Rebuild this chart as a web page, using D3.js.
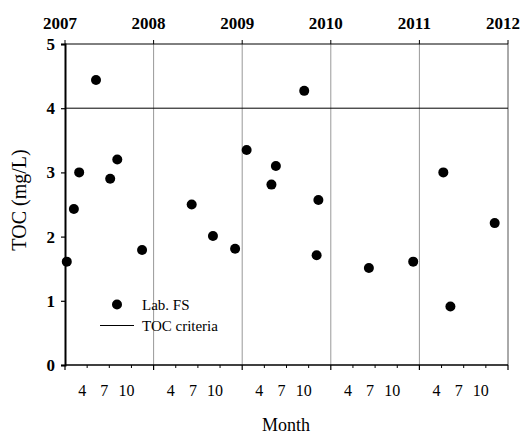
<!DOCTYPE html>
<html>
<head>
<meta charset="utf-8">
<script src="https://cdn.jsdelivr.net/npm/d3@7"></script>
<style>
  body { margin: 0; background: #fff; }
</style>
</head>
<body>
<div id="chart"></div>
<script>
// sample dates as decimal years, TOC in mg/L
const sampleDates = [2007.02, 2007.10, 2007.16, 2007.35, 2007.51, 2007.59, 2007.87,
  2008.43, 2008.67, 2008.92, 2009.05, 2009.33, 2009.38, 2009.70, 2009.84, 2009.86,
  2010.43, 2010.93, 2011.27, 2011.35, 2011.85];
const tocValues = [1.61, 2.43, 3.0, 4.44, 2.90, 3.20, 1.79,
  2.50, 2.01, 1.81, 3.35, 2.81, 3.10, 4.27, 1.71, 2.57,
  1.51, 1.61, 3.0, 0.91, 2.21];
const years = [2007, 2008, 2009, 2010, 2011, 2012];
const monthTicks = [4, 7, 10];
const yTicks = [0, 1, 2, 3, 4, 5];
const tocCriteria = 4;

const FONT = "'Liberation Serif', 'Times New Roman', Times, serif";
const width = 521, height = 434;
const margin = { top: 44, right: 13, bottom: 69, left: 65 };

const svg = d3.select("#chart").append("svg")
  .attr("width", width)
  .attr("height", height)
  .style("font-family", FONT);

const x = d3.scaleLinear().domain([2007, 2012]).range([margin.left, width - margin.right]);
const y = d3.scaleLinear().domain([0, 5]).range([height - margin.bottom, margin.top]);

// vertical year lines
svg.append("g")
  .selectAll("line")
  .data(years.slice(1))
  .join("line")
  .attr("x1", d => x(d)).attr("x2", d => x(d))
  .attr("y1", y(5)).attr("y2", y(0))
  .attr("stroke", d => d === 2012 ? "#555" : "#999")
  .attr("stroke-width", 1);

// top border + criteria line
svg.append("line")
  .attr("x1", x(2007)).attr("x2", x(2012))
  .attr("y1", y(5)).attr("y2", y(5))
  .attr("stroke", "#000");
svg.append("line")
  .attr("x1", x(2007)).attr("x2", x(2012))
  .attr("y1", y(tocCriteria)).attr("y2", y(tocCriteria))
  .attr("stroke", "#000");

// top year ticks and labels
const topAxis = svg.append("g");
topAxis.selectAll("line")
  .data(years)
  .join("line")
  .attr("x1", d => x(d)).attr("x2", d => x(d))
  .attr("y1", y(5) - 4).attr("y2", y(5))
  .attr("stroke", "#000");
topAxis.selectAll("text")
  .data(years)
  .join("text")
  .attr("x", d => x(d) - 5)
  .attr("y", 29)
  .attr("text-anchor", "middle")
  .attr("font-size", 17)
  .attr("font-weight", "bold")
  .text(d => d);

// bottom axis: month ticks
const monthPos = [];
years.slice(0, -1).forEach(yr => monthTicks.forEach(m => monthPos.push({ yr, m })));
const bottomAxis = svg.append("g");
bottomAxis.append("line")
  .attr("x1", x(2007)).attr("x2", x(2012))
  .attr("y1", y(0)).attr("y2", y(0))
  .attr("stroke", "#000").attr("stroke-width", 1.5);
bottomAxis.selectAll("line.yr")
  .data(years)
  .join("line")
  .attr("class", "yr")
  .attr("x1", d => x(d)).attr("x2", d => x(d))
  .attr("y1", y(0)).attr("y2", y(0) + 5)
  .attr("stroke", "#000").attr("stroke-width", 1.2);
bottomAxis.selectAll("line.mo")
  .data(monthPos)
  .join("line")
  .attr("class", "mo")
  .attr("x1", d => x(d.yr + (d.m - 1) / 12)).attr("x2", d => x(d.yr + (d.m - 1) / 12))
  .attr("y1", y(0)).attr("y2", y(0) + 3)
  .attr("stroke", "#000");
bottomAxis.selectAll("text")
  .data(monthPos)
  .join("text")
  .attr("x", d => x(d.yr + (d.m - 1) / 12) - 5)
  .attr("y", 396)
  .attr("text-anchor", "middle")
  .attr("font-size", 16)
  .text(d => d.m);

// left axis
const yAxis = svg.append("g")
  .attr("transform", `translate(${margin.left},0)`)
  .call(d3.axisLeft(y).tickValues(yTicks).tickSize(4).tickPadding(6).tickFormat(d3.format("d")))
  .attr("font-family", null)
  .attr("font-size", 17)
  .attr("font-weight", "bold");
yAxis.select(".domain").attr("stroke", "#000").attr("stroke-width", 2);
yAxis.selectAll(".tick line").attr("stroke", "#000").attr("stroke-width", 1.2);
yAxis.selectAll(".tick text").attr("fill", "#000");

// points
svg.append("g")
  .selectAll("circle")
  .data(sampleDates.map((d, i) => ({ date: d, toc: tocValues[i] })))
  .join("circle")
  .attr("cx", d => x(d.date))
  .attr("cy", d => y(d.toc))
  .attr("r", 5)
  .attr("fill", "#000");

// axis titles
svg.append("text")
  .attr("transform", "translate(26,200) rotate(-90)")
  .attr("text-anchor", "middle")
  .attr("font-size", 20)
  .text("TOC (mg/L)");
svg.append("text")
  .attr("x", 286)
  .attr("y", 431)
  .attr("text-anchor", "middle")
  .attr("font-size", 18)
  .text("Month");

// legend
const legend = svg.append("g");
legend.append("circle").attr("cx", 117).attr("cy", 304.5).attr("r", 5).attr("fill", "#000");
legend.append("text").attr("x", 142).attr("y", 310).attr("font-size", 15).text("Lab. FS");
legend.append("line")
  .attr("x1", 100).attr("x2", 134).attr("y1", 325.5).attr("y2", 325.5)
  .attr("stroke", "#000");
legend.append("text").attr("x", 142).attr("y", 331).attr("font-size", 15).text("TOC criteria");
</script>
</body>
</html>
